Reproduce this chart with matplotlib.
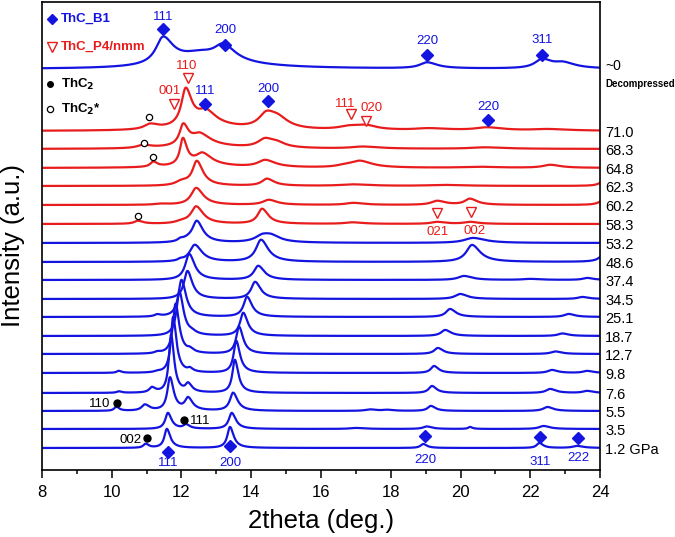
import numpy as np
import matplotlib
matplotlib.use("Agg")
import matplotlib.pyplot as plt

plt.rcParams['font.family'] = ['Liberation Sans', 'DejaVu Sans']

BLUE = '#1414e0'
RED = '#e81c1c'

# pressure labels (GPa), bottom to top; "~0" is the decompressed pattern
pressures = ['1.2 GPa', '3.5', '5.5', '7.6', '9.8', '12.7', '18.7', '25.1', '34.5',
             '37.4', '48.6', '53.2', '58.3', '60.2', '62.3', '64.8', '68.3', '71.0', '~0']
# vertical offset of each pattern (a.u.)
offsets = [22, 41, 59, 77, 97, 116, 134, 153, 171,
           190, 208, 227, 246, 265, 284, 302, 321, 339, 401]
colors = ['b'] * 12 + ['r'] * 6 + ['b']

# peaks: (2theta, height, fwhm)
peaks = [
    [(10.97, 4, 0.15), (11.58, 19, 0.17), (13.39, 21, 0.18), (18.93, 4, 0.18),
     (22.26, 5, 0.18), (23.34, 2, 0.3)],
    [(11.61, 16, 0.18), (12.13, 4, 0.18), (13.44, 16, 0.2), (17.0, 1, 0.4),
     (19.03, 2.5, 0.25), (20.27, 2, 0.12), (22.38, 3, 0.3)],
    [(10.13, 4, 0.14), (10.95, 6, 0.22), (11.67, 33, 0.18), (12.19, 12, 0.22),
     (13.48, 18, 0.22), (17.4, 1.5, 0.3), (17.9, 1, 0.3), (19.15, 5, 0.22), (22.49, 4, 0.28)],
    [(10.2, 1.5, 0.14), (11.15, 5, 0.18), (11.70, 58, 0.15), (12.19, 8, 0.18),
     (13.53, 33, 0.17), (19.18, 7, 0.22), (22.57, 4, 0.28), (23.63, 2, 0.28)],
    [(10.2, 2, 0.14), (11.3, 1, 0.18), (11.76, 56, 0.16), (12.24, 3, 0.15),
     (13.57, 32, 0.18), (19.24, 7, 0.22), (22.62, 3, 0.28), (23.63, 2, 0.28)],
    [(11.3, 1.5, 0.18), (11.83, 50, 0.18), (12.24, 3, 0.18), (13.65, 27, 0.2),
     (19.35, 6, 0.25), (22.72, 2.5, 0.3)],
    [(11.94, 44, 0.2), (12.3, 2, 0.22), (13.77, 23, 0.22), (19.56, 6, 0.28), (22.92, 2.5, 0.3)],
    [(11.3, 2, 0.18), (12.0, 37, 0.22), (13.88, 20, 0.24), (19.7, 8, 0.28), (23.1, 3, 0.3)],
    [(12.17, 28, 0.24), (14.11, 17, 0.27), (19.99, 5, 0.35), (23.49, 2, 0.3)],
    [(12.22, 26, 0.27), (14.2, 14, 0.3), (20.1, 4, 0.4), (22.0, 1, 0.5), (23.63, 2, 0.3)],
    [(11.96, 1.5, 0.15), (12.38, 17, 0.35), (14.28, 22, 0.35), (20.33, 17, 0.4), (24.15, 10, 0.3)],
    [(11.96, 2, 0.15), (12.2, 3, 0.5), (12.44, 20, 0.3), (14.35, 8, 0.55), (14.6, 3, 0.4),
     (20.36, 5, 0.6)],
    [(10.75, 3, 0.25), (12.0, 2, 0.4), (12.42, 17, 0.35), (14.31, 15, 0.3), (16.9, 1.5, 0.5),
     (19.33, 2, 0.4), (20.27, 2, 0.4)],
    [(11.4, 1, 0.4), (12.42, 17, 0.35), (14.5, 5, 0.4), (16.92, 2, 0.5), (19.33, 4, 0.4),
     (20.27, 6, 0.35), (24.1, 5, 0.3)],
    [(12.0, 4, 0.4), (12.44, 24, 0.3), (14.45, 7, 0.35), (16.9, 1.5, 0.8), (19.5, 1, 1.0),
     (24.15, 8, 0.25)],
    [(11.19, 5, 0.2), (12.04, 26, 0.2), (12.4, 3, 1.5), (12.6, 11, 0.45), (14.4, 7, 0.5),
     (16.7, 2, 0.6), (17.12, 6, 0.6), (20.5, 1, 1.0), (22.57, 3, 0.5)],
    [(10.9, 3, 0.4), (12.05, 20, 0.25), (12.4, 4, 1.5), (12.53, 10, 0.5), (14.4, 9, 0.5),
     (14.75, 3, 0.4), (17.2, 2, 0.8), (20.7, 1.5, 1.0)],
    [(11.1, 5, 0.4), (12.12, 36, 0.3), (12.5, 6, 1.5), (12.7, 12, 0.5), (14.45, 16, 0.55),
     (14.8, 6, 0.5), (16.85, 4, 0.8), (17.3, 3, 0.5), (19.1, 2, 1.0), (20.76, 3, 0.8),
     (22.5, 1.5, 1.0)],
    [(11.47, 26, 0.5), (12.4, 9, 2.2), (12.55, 5, 0.9), (13.2, 15, 0.6), (19.04, 6, 0.5),
     (22.34, 9, 0.5), (22.95, 5, 0.6)],
]

tt = np.linspace(8, 24, 1600)


def pattern(plist):
    # Lorentzian peaks, tail a bit longer on the high-angle side
    y = np.zeros_like(tt)
    for x0, h, w in plist:
        hw = np.where(tt < x0, w / 2, w * 0.7)
        y += h / (1 + ((tt - x0) / hw) ** 2)
    return y


fig = plt.figure(figsize=(6.75, 5.37), dpi=100)
ax = fig.add_axes([0.0622, 0.1248, 0.8267, 0.8715])

for lab, off, c, plist in zip(pressures, offsets, colors, peaks):
    ax.plot(tt, off + pattern(plist), color=BLUE if c == 'b' else RED, lw=1.6)
    if lab != '~0':
        ax.text(24.15, off - 2, lab, fontsize=10.5, va='center', ha='left', clip_on=False)
ax.text(24.15, 404, '~0', fontsize=10, va='center', ha='left')
ax.text(24.15, 386, 'Decompressed', fontsize=7, fontweight='bold', va='center', ha='left')

# ThC_B1 markers
b1 = [(11.47, 441, 453, '111'), (13.25, 425, 440, '200'), (19.04, 415, 429, '220'),
      (22.34, 415, 430, '311'), (12.67, 366, 379, '111'), (14.48, 369, 381, '200'),
      (20.79, 350, 363, '220'), (11.61, 18, 7, '111'), (13.39, 24, 7, '200'),
      (18.98, 34, 10, '220'), (22.28, 33, 8, '311'), (23.37, 32, 12, '222')]
for x, ym, yt, s in b1:
    ax.plot(x, ym, 'D', color=BLUE, ms=6)
    ax.text(x, yt, s, color=BLUE, fontsize=9.5, ha='center', va='center')

# ThC_P4/nmm markers
p4 = [(12.19, 392, 12.16, 404, '110'), (11.78, 366, 11.65, 379, '001'),
      (16.86, 356, 16.69, 366, '111'), (17.29, 349, 17.46, 362, '020'),
      (19.33, 257, 19.33, 238, '021'), (20.30, 258, 20.39, 239, '002')]
for x, ym, xt, yt, s in p4:
    ax.plot(x, ym, 'v', mfc='white', mec=RED, ms=7, mew=1)
    ax.text(xt, yt, s, color=RED, fontsize=9.5, ha='center', va='center')

# ThC2 markers
for x, ym, xt, yt, s, ha in [(10.15, 67, 9.95, 66, '110', 'right'),
                             (12.07, 50, 12.24, 49, '111', 'left'),
                             (11.01, 32, 10.87, 30, '002', 'right')]:
    ax.plot(x, ym, 'o', color='k', ms=5)
    ax.text(xt, yt, s, fontsize=9.5, ha=ha, va='center')
for x, y in [(11.07, 353), (10.92, 327), (11.18, 313), (10.75, 254)]:
    ax.plot(x, y, 'o', mfc='white', mec='k', ms=4.5, mew=0.9)

# legend-like labels
ax.plot(8.29, 451, 'D', color=BLUE, ms=5)
ax.text(8.54, 451, 'ThC_B1', color=BLUE, fontsize=9.5, fontweight='bold', va='center')
ax.plot(8.29, 423, 'v', mfc='white', mec=RED, ms=7, mew=1)
ax.text(8.54, 423, 'ThC_P4/nmm', color=RED, fontsize=9.5, fontweight='bold', va='center')
ax.plot(8.23, 386, 'o', color='k', ms=4)
ax.text(8.54, 386, r'ThC$_\mathbf{2}$', fontsize=9.5, fontweight='bold', va='center')
ax.plot(8.23, 361, 'o', mfc='white', mec='k', ms=4.5, mew=0.9)
ax.text(8.54, 361, r'ThC$_\mathbf{2}$*', fontsize=9.5, fontweight='bold', va='center')

ax.set_xlim(8, 24)
ax.set_ylim(0, 468)
ax.set_xticks(np.arange(8, 25, 2))
ax.set_xticks(np.arange(9, 24, 2), minor=True)
ax.set_yticks([])
ax.tick_params(axis='x', which='major', direction='out', length=6, width=1.1, labelsize=12, pad=5)
ax.tick_params(axis='x', which='minor', direction='out', length=3, width=1.1)
for sp in ax.spines.values():
    sp.set_linewidth(1.2)
ax.set_xlabel('2theta (deg.)', fontsize=18.5, labelpad=6)
ax.set_ylabel('Intensity (a.u.)', fontsize=18.5)
ax.yaxis.set_label_coords(-0.03, 0.48)

fig.savefig('out.png', dpi=100)
